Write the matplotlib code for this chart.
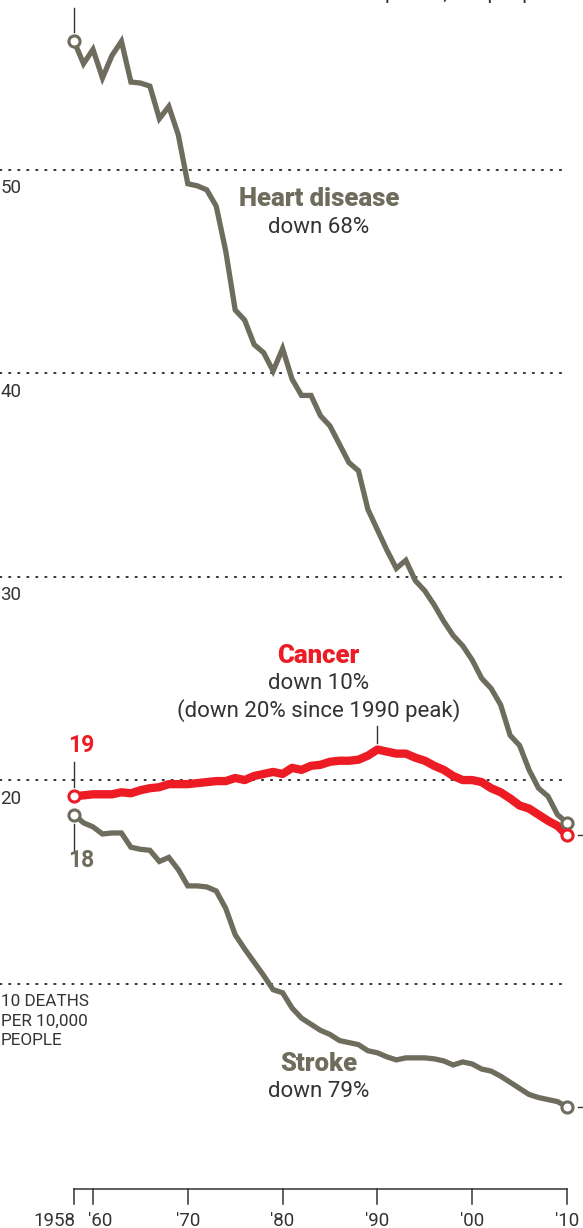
import matplotlib
matplotlib.use('Agg')
import matplotlib.pyplot as plt

# deaths per 10,000 people, 1958-2010
years = list(range(1958, 2011))

heart = [56.3, 55.2, 55.9, 54.5, 55.6, 56.3, 54.3, 54.25, 54.1, 52.5,
         53.1, 51.7, 49.3, 49.2, 49.0, 48.2, 46.0, 43.1, 42.6, 41.4,
         41.0, 40.1, 41.2, 39.7, 38.9, 38.9, 37.9, 37.4, 36.5, 35.6,
         35.2, 33.3, 32.3, 31.3, 30.4, 30.8, 29.8, 29.3, 28.6, 27.8,
         27.1, 26.6, 25.9, 25.0, 24.5, 23.7, 22.2, 21.7, 20.5, 19.6,
         19.2, 18.3, 17.9]

cancer = [19.2, 19.25, 19.3, 19.3, 19.3, 19.4, 19.35, 19.5, 19.6, 19.65,
          19.8, 19.8, 19.8, 19.85, 19.9, 19.95, 19.95, 20.1, 20.0, 20.2,
          20.3, 20.4, 20.3, 20.6, 20.5, 20.7, 20.75, 20.9, 20.95, 20.95,
          21.0, 21.2, 21.5, 21.4, 21.3, 21.3, 21.1, 20.95, 20.7, 20.5,
          20.2, 20.0, 20.0, 19.9, 19.6, 19.4, 19.1, 18.75, 18.6, 18.3,
          18.0, 17.75, 17.3]

stroke = [18.3, 17.9, 17.7, 17.35, 17.4, 17.4, 16.7, 16.6, 16.55, 16.0,
          16.2, 15.6, 14.8, 14.8, 14.75, 14.55, 13.7, 12.4, 11.7, 11.05,
          10.4, 9.7, 9.55, 8.8, 8.3, 8.0, 7.7, 7.5, 7.2, 7.1,
          7.0, 6.7, 6.6, 6.4, 6.25, 6.35, 6.35, 6.35, 6.3, 6.2,
          6.0, 6.15, 6.05, 5.8, 5.7, 5.45, 5.15, 4.85, 4.55, 4.4,
          4.3, 4.2, 3.95]

grid_vals = [10, 20, 30, 40, 50]
tick_years = [1958, 1960, 1970, 1980, 1990, 2000, 2010]
tick_labels = ['1958', "'60", "'70", "'80", "'90", "'00", "'10"]

GRAY = '#6e6c5c'
RED = '#ed1c24'
TXT = '#333333'
FONT = 'Roboto'

fig = plt.figure(figsize=(5.83, 12.28), dpi=100)
ax = fig.add_axes([0, 0, 1, 1])
ax.set_xlim(1950.19, 2011.69)
ax.set_ylim(-2.01, 58.33)
ax.axis('off')

# dotted gridlines + left labels
for g in grid_vals:
    ax.plot([1950.19, 2010], [g, g], color='#222222', lw=1.3,
            linestyle=(0, (0.8, 4.2)), dash_capstyle='round', zorder=1)
for g in [20, 30, 40, 50]:
    ax.text(1950.2, g - 0.92, str(g), ha='left', va='center',
            fontsize=13.5, color=TXT, family=FONT)
ax.text(1950.3, 9.5, '10 DEATHS\nPER 10,000\nPEOPLE', ha='left', va='top',
        fontsize=12.3, color=TXT, family=FONT, linespacing=1.4)

# lines
ax.plot(years, heart, color=GRAY, lw=3.8, solid_joinstyle='miter', zorder=3)
ax.plot(years, stroke, color=GRAY, lw=3.8, solid_joinstyle='miter', zorder=3)
ax.plot(years, cancer, color=RED, lw=6, solid_joinstyle='round', zorder=4)

# end markers
for s, c in [(heart, GRAY), (stroke, GRAY), (cancer, RED)]:
    ax.plot([years[0], years[-1]], [s[0], s[-1]], 'o', ms=8, mfc='white',
            mec=c, mew=2.2, zorder=5)

# leader lines
ax.plot([1958, 1958], [heart[0] + 0.45, 57.95], color='#333333', lw=1, zorder=2)
ax.plot([1958, 1958], [cancer[0] + 0.45, 20.9], color='#333333', lw=1, zorder=2)
ax.plot([1958, 1958], [stroke[0] - 0.45, 16.45], color='#333333', lw=1, zorder=2)
ax.plot([1990, 1990], [cancer[32] + 0.3, 22.65], color='#333333', lw=1, zorder=2)
ax.plot([2011.15, 2011.69], [cancer[-1], cancer[-1]], color='#333333', lw=1)
ax.plot([2011.15, 2011.69], [stroke[-1], stroke[-1]], color='#333333', lw=1)

# start value labels
ax.text(1958.75, 21.72, '19', ha='center', va='center', fontsize=16.5,
        fontweight='bold', color=RED, family=FONT)
ax.text(1958.75, 16.07, '18', ha='center', va='center', fontsize=16.5,
        fontweight='bold', color=GRAY, family=FONT)

# series labels
ax.text(1983.85, 48.55, 'Heart disease', ha='center', va='center',
        fontsize=18.5, fontweight='black', color=GRAY, family=FONT)
ax.text(1983.8, 47.13, 'down 68%', ha='center', va='center',
        fontsize=16, color=TXT, family=FONT)
ax.text(1983.8, 26.1, 'Cancer', ha='center', va='center',
        fontsize=18.5, fontweight='black', color=RED, family=FONT)
ax.text(1983.8, 24.75, 'down 10%', ha='center', va='center',
        fontsize=16, color=TXT, family=FONT)
ax.text(1983.8, 23.42, '(down 20% since 1990 peak)', ha='center', va='center',
        fontsize=16, color=TXT, family=FONT)
ax.text(1983.8, 6.05, 'Stroke', ha='center', va='center',
        fontsize=18.5, fontweight='black', color=GRAY, family=FONT)
ax.text(1983.8, 4.72, 'down 79%', ha='center', va='center',
        fontsize=16, color=TXT, family=FONT)

# note cut off at the very top (only descenders visible, as in the source)
ax.text(1990.8, 58.4, 'per 10,000 people', ha='left', va='baseline',
        fontsize=15, color=TXT, family=FONT)

# x axis
ax.plot([1958, 2010], [-0.1, -0.1], color='#333333', lw=1.1)
for yr, lab in zip(tick_years, tick_labels):
    ax.plot([yr, yr], [-0.1, -0.84], color='#333333', lw=1.1)
    if yr == 1958:
        ax.text(yr + 0.15, -1.67, lab, ha='right', va='center',
                fontsize=13.5, color=TXT, family=FONT)
    elif yr == 1960:
        ax.text(yr - 0.55, -1.67, lab, ha='left', va='center',
                fontsize=13.5, color=TXT, family=FONT)
    else:
        ax.text(yr, -1.67, lab, ha='center', va='center',
                fontsize=13.5, color=TXT, family=FONT)

fig.savefig('out.png', dpi=100)
